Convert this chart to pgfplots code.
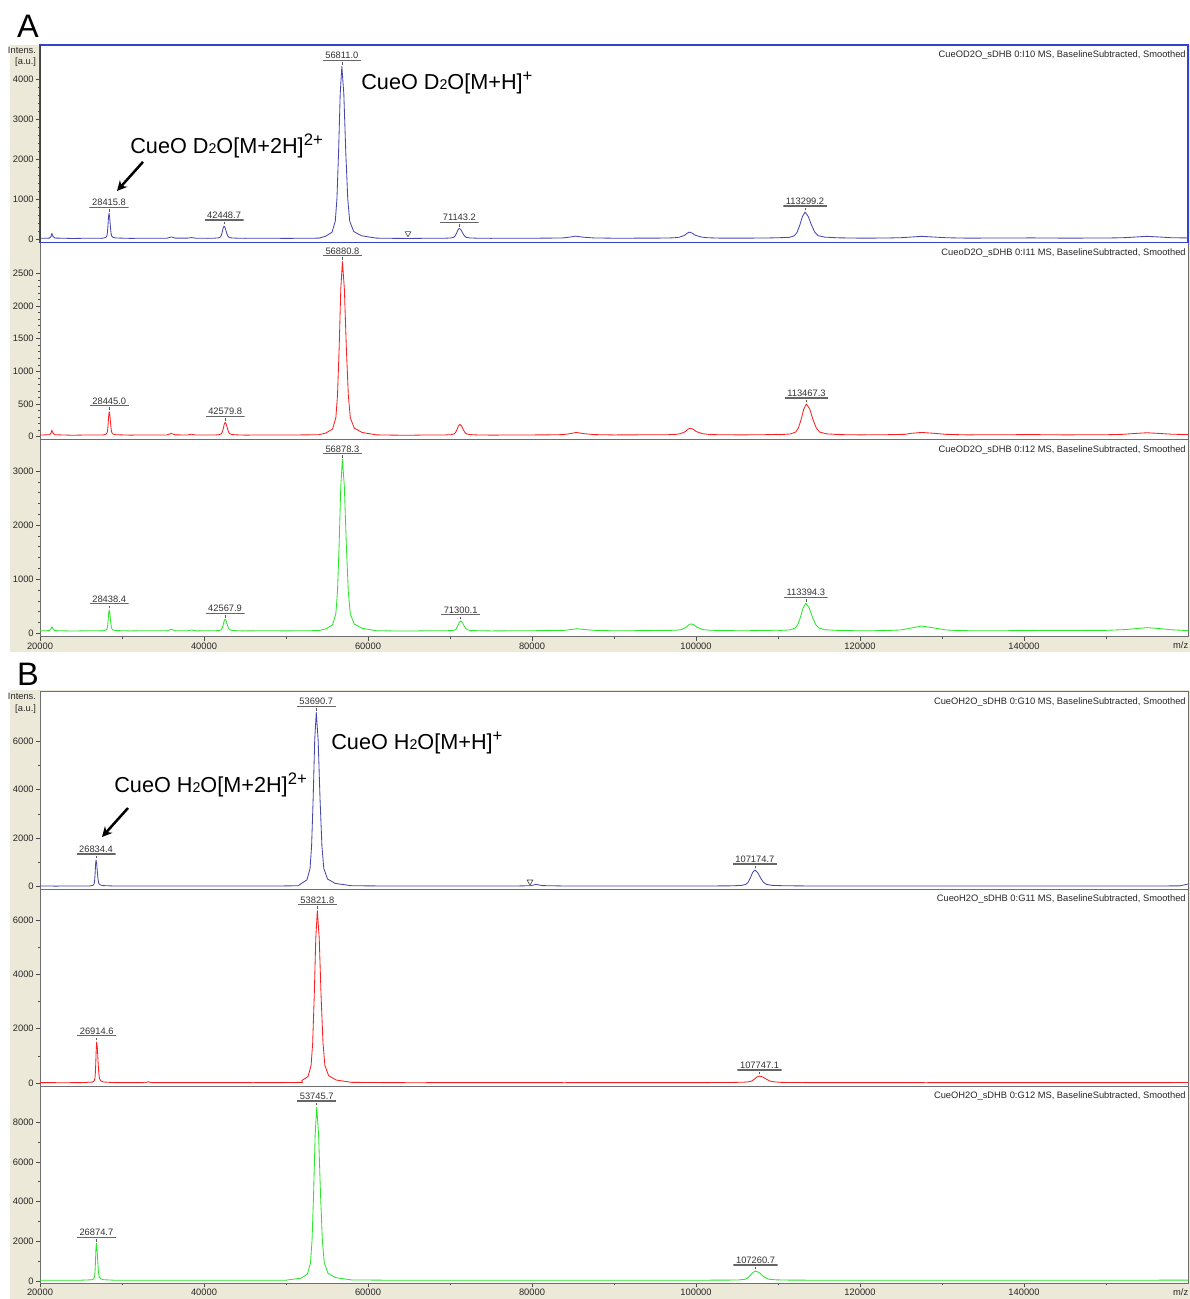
\documentclass[border=0pt]{standalone}
\usepackage{fontspec}
\setmainfont{Liberation Sans}
\usepackage{pgfplots}
\pgfplotsset{compat=1.18}
\usetikzlibrary{arrows.meta}
\definecolor{beige}{RGB}{236,233,216}
\definecolor{selblue}{RGB}{51,68,204}
\definecolor{specblue}{RGB}{70,70,175}
\definecolor{specred}{RGB}{250,30,30}
\definecolor{specgreen}{RGB}{40,230,40}
\definecolor{framec}{RGB}{110,110,110}
\newcommand\sm{\fontsize{5.6}{7}\selectfont}
\newcommand\bigf{\fontsize{13}{15}\selectfont}
\newcommand\subtwo{{\fontsize{8.5}{9}\selectfont 2}}
\newcommand\chg[1]{\raisebox{0.72ex}{\fontsize{10}{10}\selectfont #1}}
\tikzset{
  sl/.style={line width=0.5pt, line join=round},
  hdr/.style={anchor=north east, font=\sm, inner sep=0pt, text=black!85},
  pklab/.style={font=\sm, anchor=south, inner xsep=1.6pt, inner ysep=0.8pt, yshift=3.4pt, text=black!80,
    path picture={\draw[black!60, line width=0.8pt] (path picture bounding box.south west) -- (path picture bounding box.south east);}},
}
\newcommand\pk[3]{%
  \node[pklab] at (axis cs:#1,#2) {#3};
  \node[anchor=south, inner sep=0pt, yshift=0.8pt, text=black!65] at (axis cs:#1,#2) {\rule{0.4pt}{1.6pt}};
}
\pgfplotsset{
  spec/.style={
    scale only axis, width=688.8pt, xmin=20000, xmax=160000,
    axis background/.style={fill=white},
    axis line style={framec, line width=0.5pt},
    tick align=outside, ytick pos=left, xtick pos=bottom,
    major tick length=2.4pt, minor tick length=1.3pt,
    tick style={black!70, line width=0.4pt},
    tick label style={font=\sm, text=black!85},
    yticklabel style={inner sep=1.2pt},
    xticklabel style={inner sep=1pt},
    scaled ticks=false,
    /pgf/number format/fixed,
    /pgf/number format/precision=0,
    /pgf/number format/1000 sep={},
    /pgf/number format/assume math mode=true,
    xtick=\empty,
  },
  bottomx/.style={xtick={20000,40000,...,140000}, minor xtick={30000,50000,...,150000}},
}
\begin{document}
\begin{tikzpicture}
\path[fill=white] (0,0) rectangle (714pt,-779.4pt);
\fill[beige] (6pt,-27pt) rectangle (714pt,-391.2pt);
\fill[beige] (6pt,-414pt) rectangle (714pt,-779.4pt);
\node[anchor=base west, font=\fontsize{19.5}{21}\selectfont, inner sep=0pt] at (10pt,-22.6pt) {A};
\node[anchor=base west, font=\fontsize{19.5}{21}\selectfont, inner sep=0pt] at (10pt,-411.4pt) {B};
\node[anchor=north east, font=\sm, align=right, inner sep=0pt, text=black!85] at (21.8pt,-27.8pt) {Intens.\\{[a.u.]}};
\node[anchor=north east, font=\sm, align=right, inner sep=0pt, text=black!85] at (21.8pt,-415.6pt) {Intens.\\{[a.u.]}};

% ---------------- Panel A, spectrum 2 (red)
\begin{axis}[spec, name=a2, at={(24pt,-145.38pt)}, anchor=north west, height=118.2pt,
  ymin=-40, ymax=2976, ytick={0,500,...,2500}, minor y tick num=4]
\addplot[sl, specred] coordinates {
(20000,25)(21150,30)(21350,55)(21450,100)(21570,58)(21800,30)(24000,22)(26000,27)(27500,25)
(27795,29)(28055,38)(28185,61)(28250,107)(28315,204)(28380,326)(28445,383)(28525,326)(28605,204)(28685,107)(28765,61)(28925,39)(29245,30)
(31000,24)(33000,27)(35500,27)(36000,50)(36500,28)(38000,26)(38500,38)(39000,25)(40500,26)
(41430,27)(41890,32)(42120,45)(42235,70)(42350,123)(42465,189)(42580,220)(42720,189)(42860,123)(43000,70)(43140,45)(43420,33)(43980,28)
(45000,24)(47500,27)(50000,25)(52500,28)(54000,30)
(54881,57)(55681,118)(56081,291)(56281,636)(56481,1353)(56681,2255)(56881,2680)(57121,2255)(57361,1353)(57601,636)(57841,291)(58321,131)(59281,65)
(61000,28)(63000,24)(65000,22)(67000,26)(69000,27)
(69450,27)(70150,31)(70500,42)(70675,63)(70850,108)(71025,164)(71200,190)(71410,164)(71620,108)(71830,63)(72040,42)(72460,32)(73300,27)
(75000,24)(78000,26)(82000,28)(83800,32)(84600,45)(85400,65)(86300,47)(87600,32)(90000,27)(94000,29)(96500,30)
(97500,35)(98100,46)(98700,77)(99000,113)(99300,130)(99675,113)(100050,77)(100800,46)(101550,35)(103000,29)
(106000,28)(108500,31)(110000,36)
(110217,31)(111517,42)(112167,72)(112492,134)(112817,263)(113142,424)(113467,500)(113867,424)(114267,263)(114667,134)(115067,72)(115867,44)(117467,32)
(120000,28)(123000,30)(125500,36)(126300,52)(127500,65)(128800,54)(130500,36)(133000,28)(137000,30)(141000,32)(145000,28)(150000,30)(152000,36)
(153000,45)(154500,57)(155000,60)(156200,52)(158000,38)(160000,32)};
\pk{28445}{383}{28445.0}
\pk{42580}{220}{42579.8}
\pk{56881}{2680}{56880.8}
\pk{113467}{500}{113467.3}
\node[hdr] at ([xshift=-1.2pt,yshift=-3.4pt]rel axis cs:1,1) {CueoD2O\_sDHB 0:I11 MS, BaselineSubtracted, Smoothed};
\end{axis}

% ---------------- Panel A, spectrum 3 (green)
\begin{axis}[spec, bottomx, name=a3, at={(24pt,-263.58pt)}, anchor=north west, height=118.44pt,
  ymin=-63, ymax=3589, ytick={0,1000,2000,3000}, minor y tick num=4]
\addplot[sl, specgreen] coordinates {
(20000,45)(21150,50)(21350,85)(21450,122)(21570,88)(21800,50)(24000,42)(26000,48)(27500,45)
(27788,50)(28048,59)(28178,84)(28243,134)(28308,239)(28373,370)(28438,432)(28518,370)(28598,239)(28678,134)(28758,84)(28918,60)(29238,51)
(31000,44)(33000,48)(35500,47)(36000,75)(36500,48)(38000,46)(38500,62)(39000,45)(40500,47)
(41418,48)(41878,53)(42108,67)(42223,94)(42338,153)(42453,226)(42568,260)(42708,226)(42848,153)(42988,94)(43128,67)(43408,54)(43968,48)
(45000,44)(47500,48)(50000,45)(52500,48)(54000,50)
(54878,83)(55678,156)(56078,362)(56278,774)(56478,1630)(56678,2708)(56878,3215)(57118,2708)(57358,1630)(57598,774)(57838,362)(58318,172)(59278,93)
(61000,48)(63000,44)(65000,42)(67000,46)(69000,48)
(69550,48)(70250,51)(70600,63)(70775,87)(70950,137)(71125,199)(71300,228)(71510,199)(71720,137)(71930,87)(72140,63)(72560,52)(73400,48)
(75000,44)(78000,47)(82000,50)(83900,55)(84700,68)(85500,85)(86400,70)(87700,54)(90000,47)(94000,50)(96500,52)
(97600,58)(98200,68)(98800,110)(99100,154)(99400,175)(99775,154)(100150,110)(100900,68)(101650,58)(103000,50)
(106000,48)(108500,52)(110000,58)
(110144,52)(111444,63)(112094,96)(112419,163)(112744,301)(113069,474)(113394,556)(113794,474)(114194,301)(114594,163)(114994,96)(115794,65)(117394,53)
(120000,47)(123000,50)(125000,62)(126300,100)(127500,135)(128800,105)(130500,62)(132000,50)
(135000,47)(140000,50)(145000,52)(150000,55)(152500,70)(153500,85)(155000,105)(156300,90)(158000,65)(160000,50)};
\pk{28438}{432}{28438.4}
\pk{42568}{260}{42567.9}
\pk{56878}{3215}{56878.3}
\pk{71300}{228}{71300.1}
\pk{113394}{556}{113394.3}
\node[hdr] at ([xshift=-1.2pt,yshift=-3.4pt]rel axis cs:1,1) {CueOD2O\_sDHB 0:I12 MS, BaselineSubtracted, Smoothed};
\end{axis}
\node[anchor=north east, font=\sm, inner sep=0pt, text=black!85] at ([xshift=0.3pt,yshift=-3pt]a3.south east) {m/z};

% ---------------- Panel A, spectrum 1 (blue)
\begin{axis}[spec, name=a1, at={(24pt,-27pt)}, anchor=north west, height=118.4pt,
  ymin=-75, ymax=4848, ytick={0,1000,...,4000}, minor y tick num=4,
  axis line style={selblue, line width=0.7pt}]
\addplot[sl, specblue] coordinates {
(20000,25)(21150,30)(21350,75)(21450,150)(21570,80)(21800,32)(24000,22)(26000,28)(27500,25)
(27766,33)(28026,47)(28156,87)(28221,169)(28286,337)(28351,550)(28416,650)(28496,550)(28576,337)(28656,169)(28736,87)(28896,50)(29216,34)
(31000,24)(33000,28)(35500,28)(36000,60)(36500,30)(38000,30)(38500,45)(39000,27)(40500,25)
(41299,29)(41759,36)(41989,56)(42104,95)(42219,178)(42334,281)(42449,330)(42589,281)(42729,178)(42869,95)(43009,56)(43289,37)(43849,30)
(45000,25)(47500,28)(50000,24)(52500,27)(54000,30)
(54811,76)(55611,175)(56011,454)(56211,1012)(56411,2170)(56611,3629)(56811,4315)(57051,3629)(57291,2170)(57531,1012)(57771,454)(58251,197)(59211,89)
(61000,30)(63000,25)(65000,22)(67000,26)(69000,28)
(69393,28)(70093,34)(70443,50)(70618,83)(70793,150)(70968,235)(71143,275)(71353,235)(71563,150)(71773,83)(71983,50)(72403,35)(73243,29)
(75000,25)(78000,27)(82000,30)(83700,35)(84500,52)(85300,80)(86200,55)(87500,35)(90000,28)(94000,30)(96500,32)
(97400,40)(98000,55)(98600,100)(98900,150)(99200,180)(99575,150)(99950,100)(100700,55)(101450,40)(103000,30)
(106000,30)(108500,33)(110000,40)
(111349,48)(111999,90)(112324,173)(112649,348)(112974,567)(113299,680)(113699,567)(114099,348)(114499,173)(114899,90)(115699,55)(117299,38)
(120000,30)(123000,32)(125100,42)(126300,58)(127500,75)(128800,60)(130500,40)(133000,30)(137000,33)(141000,36)(145000,30)(150000,33)(152000,40)
(153000,50)(154500,70)(155000,75)(156200,62)(158000,40)(160000,35)};
\addplot[only marks, mark=triangle, mark size=2pt, mark options={rotate=180, black!70, line width=0.4pt}] coordinates {(64878,150)};
\pk{28416}{650}{28415.8}
\pk{42449}{330}{42448.7}
\pk{56811}{4315}{56811.0}
\pk{71143}{275}{71143.2}
\pk{113299}{680}{113299.2}
\node[hdr] at ([xshift=-1.2pt,yshift=-3.4pt]rel axis cs:1,1) {CueOD2O\_sDHB 0:I10 MS, BaselineSubtracted, Smoothed};
\node[anchor=west, font=\bigf, inner sep=0pt] at (axis cs:59146,3907) {CueO D\subtwo O[M+H]\chg{+}};
\node[anchor=west, font=\bigf, inner sep=0pt] at (axis cs:30975,2332) {CueO D\subtwo O[M+2H]\chg{2+}};
\draw[-{Stealth[length=6pt,width=6pt]}, line width=1.5pt] (axis cs:32561,1932) -- (axis cs:29390,1207);
\end{axis}
\draw[black!75, line width=0.5pt] (a1.south west) -- (a1.north west);

% ---------------- Panel B, spectrum 1 (blue)
\begin{axis}[spec, name=b1, at={(24pt,-415.02pt)}, anchor=north west, height=118.38pt,
  ymin=-95, ymax=8034, ytick={0,2000,4000,6000}, minor y tick num=1]
\addplot[sl, specblue] coordinates {
(20000,30)(22000,25)(24000,32)(26000,28)
(26284,43)(26504,67)(26614,137)(26669,276)(26724,565)(26779,929)(26834,1100)(26919,929)(27004,565)(27089,276)(27174,137)(27344,73)(27684,46)
(29000,30)(32000,26)(35000,30)(38000,28)(41000,32)(44000,27)(47000,30)(50000,33)(51500,40)
(51791,116)(52551,280)(52931,746)(53121,1676)(53311,3608)(53501,6040)(53691,7185)(53921,6040)(54151,3608)(54381,1676)(54611,746)(55071,316)(55991,137)
(58000,40)(62000,30)(66000,27)(70000,32)(74000,28)(78000,30)(79800,40)(80500,95)(81300,45)
(84000,30)(90000,27)(96000,32)(101000,30)(104000,35)
(104425,38)(105525,53)(106075,96)(106350,181)(106625,359)(106900,583)(107175,688)(107525,583)(107875,359)(108225,181)(108575,96)(109275,56)(110675,40)
(114000,30)(120000,27)(126000,32)(132000,28)(138000,30)(144000,32)(150000,29)(156000,30)(159000,35)(160000,110)};
\addplot[only marks, mark=triangle, mark size=2pt, mark options={rotate=180, black!70, line width=0.4pt}] coordinates {(79756,206)};
\pk{26834}{1100}{26834.4}
\pk{53691}{7185}{53690.7}
\pk{107175}{688}{107174.7}
\node[hdr] at ([xshift=-1.2pt,yshift=-3.4pt]rel axis cs:1,1) {CueOH2O\_sDHB 0:G10 MS, BaselineSubtracted, Smoothed};
\node[anchor=west, font=\bigf, inner sep=0pt] at (axis cs:55487,5920) {CueO H\subtwo O[M+H]\chg{+}};
\node[anchor=west, font=\bigf, inner sep=0pt] at (axis cs:29024,4190) {CueO H\subtwo O[M+2H]\chg{2+}};
\draw[-{Stealth[length=6pt,width=6pt]}, line width=1.5pt] (axis cs:30732,3242) -- (axis cs:27561,2048);
\end{axis}

% ---------------- Panel B, spectrum 2 (red)
\begin{axis}[spec, name=b2, at={(24pt,-533.4pt)}, anchor=north west, height=118.2pt,
  ymin=-110, ymax=7139, ytick={0,2000,4000,6000}, minor y tick num=1]
\addplot[sl, specred] coordinates {
(20000,15)(23000,12)(25000,15)
(26365,33)(26585,67)(26695,165)(26750,359)(26805,763)(26860,1271)(26915,1510)(27000,1271)(27085,763)(27170,359)(27255,165)(27425,75)(27765,37)
(29000,15)(32800,13)(33200,45)(33600,15)(38000,14)(42000,16)(46000,13)(50000,16)(52000,25)
(51922,91)(52682,236)(53062,648)(53252,1470)(53442,3178)(53632,5328)(53822,6340)(54052,5328)(54282,3178)(54512,1470)(54742,648)(55202,268)(56122,110)
(58000,25)(62000,15)(66000,12)(70000,16)(74000,14)(78000,15)(84000,13)(90000,16)(96000,14)(101000,15)(104000,20)
(104497,22)(105797,30)(106447,45)(106772,71)(107097,137)(107422,219)(107747,258)(108172,219)(108597,137)(109022,71)(109447,45)(110297,25)(112000,17)
(116000,14)(122000,16)(128000,13)(134000,15)(140000,16)(146000,14)(152000,15)(158000,16)(160000,18)};
\pk{26915}{1510}{26914.6}
\pk{53822}{6340}{53821.8}
\pk{107747}{258}{107747.1}
\node[hdr] at ([xshift=-1.2pt,yshift=-3.4pt]rel axis cs:1,1) {CueoH2O\_sDHB 0:G11 MS, BaselineSubtracted, Smoothed};
\end{axis}

% ---------------- Panel B, spectrum 3 (green)
\begin{axis}[spec, bottomx, name=b3, at={(24pt,-651.6pt)}, anchor=north west, height=118.38pt,
  ymin=-116, ymax=9828, ytick={0,2000,...,8000}, minor y tick num=1]
\addplot[sl, specgreen] coordinates {
(20000,40)(23000,38)(25000,42)
(26325,62)(26545,105)(26655,226)(26710,468)(26765,970)(26820,1602)(26875,1900)(26960,1602)(27045,970)(27130,468)(27215,226)(27385,114)(27725,68)
(29000,40)(33000,42)(38000,38)(42000,41)(46000,39)(50000,42)
(51846,145)(52606,346)(52986,913)(53176,2048)(53366,4405)(53556,7373)(53746,8770)(53976,7373)(54206,4405)(54436,2048)(54666,913)(55126,389)(56046,171)
(58000,55)(62000,42)(66000,39)(70000,41)(74000,40)(78000,42)(84000,38)(90000,41)(96000,40)(101000,42)
(104011,46)(105311,56)(105961,86)(106286,147)(106611,272)(106936,430)(107261,504)(107686,430)(108111,272)(108536,147)(108961,86)(109811,59)(111500,45)
(116000,40)(122000,42)(128000,39)(134000,41)(140000,40)(146000,42)(152000,40)(158000,44)(160000,45)};
\pk{26875}{1900}{26874.7}
\pk{53746}{8770}{53745.7}
\pk{107261}{504}{107260.7}
\node[hdr] at ([xshift=-1.2pt,yshift=-3.4pt]rel axis cs:1,1) {CueOH2O\_sDHB 0:G12 MS, BaselineSubtracted, Smoothed};
\end{axis}
\node[anchor=north east, font=\sm, inner sep=0pt, text=black!85] at ([xshift=0.3pt,yshift=-3pt]b3.south east) {m/z};
\pgfresetboundingbox
\path (0,0) rectangle (714pt,-779.4pt);
\end{tikzpicture}
\end{document}
